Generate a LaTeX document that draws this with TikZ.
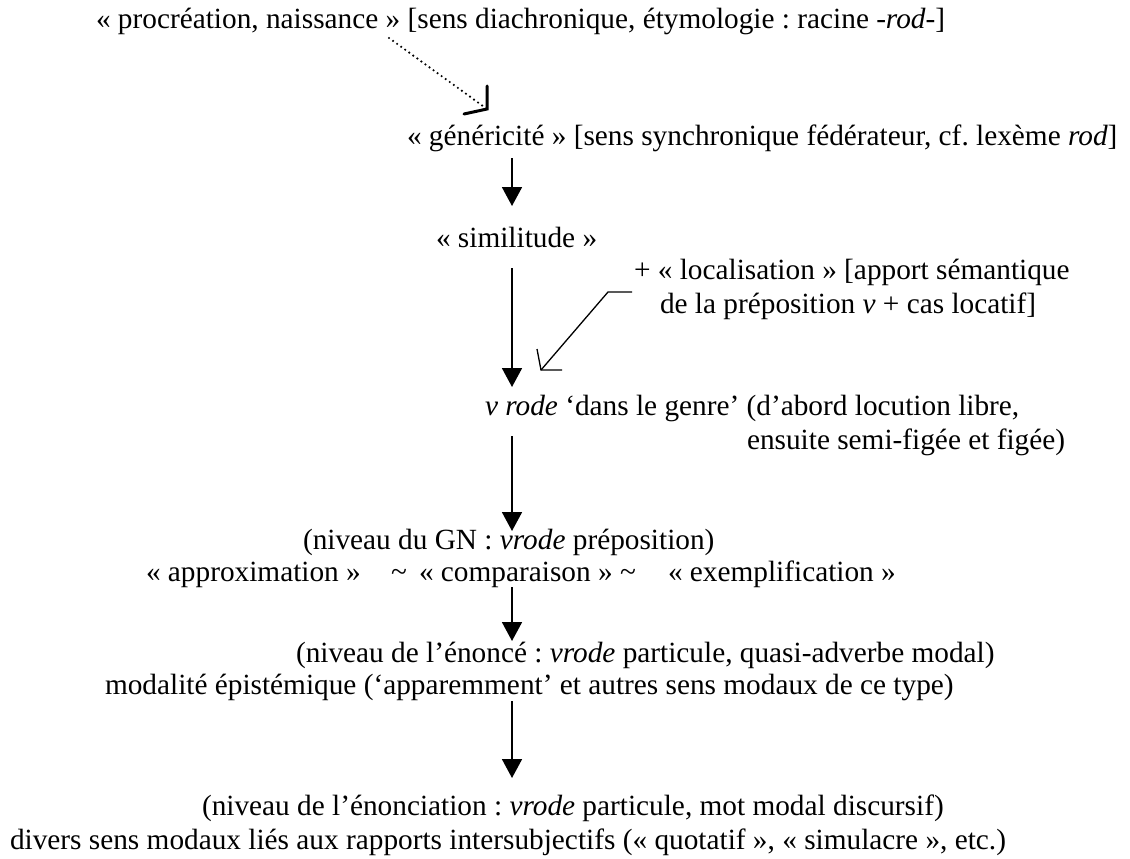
\documentclass[tikz,border=0pt]{standalone}
\usepackage{fontspec}
\setmainfont{Liberation Serif}
\usetikzlibrary{arrows.meta}
\frenchspacing
\tikzset{
  txt/.style={anchor=base west, inner sep=0pt, outer sep=0pt, font=\fontsize{29.3}{34}\selectfont},
  down/.style={line width=1.8pt, -{Triangle[width=20pt,length=19pt]}},
  thinln/.style={line width=1.3pt},
  headln/.style={line width=3pt, line cap=round},
  dots/.style={line width=2.4pt, dash pattern=on 0pt off 5pt, line cap=round}
}
\begin{document}
\begin{tikzpicture}[x=1pt,y=-1pt]
\useasboundingbox (0,0) rectangle (1130,859);
% text lines
\node[txt] (l1) at (96,29) {« procréation, naissance » [sens diachronique, étymologie : racine -\textit{rod}-]};
\node[txt] (l2) at (407,145) {« généricité » [sens synchronique fédérateur, cf. lexème \textit{rod}]};
\node[txt] (l3) at (436,247) {« similitude »};
\node[txt] (loc1) at (634,279) {+ « localisation » [apport sémantique};
\node[txt] (loc2) at (660,313) {de la préposition \textit{v} + cas locatif]};
\node[txt] (l4) at (485,415) {\textit{v rode} ‘dans le genre’ (d’abord locution libre,};
\node[txt] (l4b) at (747,449) {ensuite semi-figée et figée)};
\node[txt] (l5) at (303,549) {(niveau du GN : \textit{vrode} préposition)};
\node[txt] (l6a) at (146,581) {« approximation »};
\node[txt] (l6t1) at (391,581) {\textasciitilde};
\node[txt] (l6b) at (419,581) {« comparaison »};
\node[txt] (l6t2) at (620,581) {\textasciitilde};
\node[txt] (l6c) at (668,581) {« exemplification »};
\node[txt] (l7) at (296,662) {(niveau de l’énoncé : \textit{vrode} particule, quasi-adverbe modal)};
\node[txt] (l8) at (105,694) {modalité épistémique (‘apparemment’ et autres sens modaux de ce type)};
\node[txt] (l9) at (202,815) {(niveau de l’énonciation : \textit{vrode} particule, mot modal discursif)};
\node[txt] (l10) at (10,849) {divers sens modaux liés aux rapports intersubjectifs (« quotatif », « simulacre », etc.)};
% coordinates for connectors
\coordinate (d0) at (389,38);
\coordinate (d1) at (487,109);
\coordinate (a1s) at (512,158);
\coordinate (a1e) at (512,206);
\coordinate (a2s) at (512,268);
\coordinate (a2e) at (512,387);
\coordinate (ls) at (632,292);
\coordinate (lm) at (608,292);
\coordinate (le) at (541,370);
\coordinate (a3s) at (512,436);
\coordinate (a3e) at (512,531);
\coordinate (a4s) at (512,587);
\coordinate (a4e) at (512,641);
\coordinate (a5s) at (512,701);
\coordinate (a5e) at (512,778);
% dotted arrow
\draw[dots] (d0) -- (d1);
\draw[headln] (487,86) -- (d1) -- (464,114);
% main arrows
\draw[down] (a1s) -- (a1e);
\draw[down] (a2s) -- (a2e);
\draw[down] (a3s) -- (a3e);
\draw[down] (a4s) -- (a4e);
\draw[down] (a5s) -- (a5e);
% localisation arrow
\draw[thinln] (ls) -- (lm) -- (le);
\draw[thinln] (537,349) -- (le) -- (562,370);
\end{tikzpicture}
\end{document}
